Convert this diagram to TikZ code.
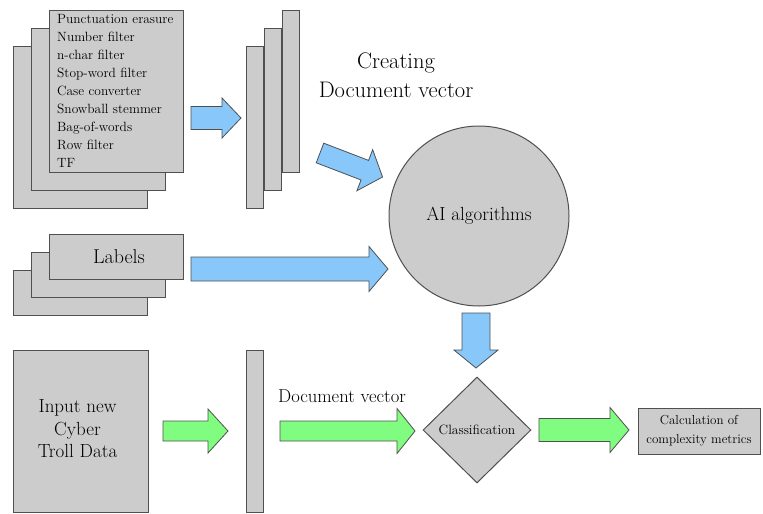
\documentclass[tikz,border=0pt]{standalone}
\usetikzlibrary{shapes.geometric}
\definecolor{boxgray}{HTML}{CCCCCC}
\definecolor{edgegray}{HTML}{505050}
\definecolor{skyfill}{HTML}{87C7FA}
\definecolor{mintfill}{HTML}{80FC80}

\begin{document}
\begin{tikzpicture}[x=1pt,y=-1pt,
  box/.style={draw=edgegray,fill=boxgray,line width=1pt,rectangle,inner sep=0pt},
  page/.style={box,minimum width=134pt,minimum height=162pt},
  sheet/.style={box,minimum width=17pt,minimum height=162pt},
  tagbox/.style={box,minimum width=134pt,minimum height=45pt},
  bluearrow/.style={draw=edgegray,fill=skyfill,line width=0.8pt},
  greenarrow/.style={draw=edgegray,fill=mintfill,line width=0.8pt},
  % block arrow: {length}{shaft half width}{head half width}{head length}
  pics/blockarrow/.style n args={4}{code={
    \path[pic actions] (0,-#2) -- (#1-#4,-#2) -- (#1-#4,-#3) -- (#1,0)
      -- (#1-#4,#3) -- (#1-#4,#2) -- (0,#2) -- cycle;
  }}
]
\useasboundingbox (0,0) rectangle (763,514);

% stacked preprocessing pages
\node[page] (pg3) at (80.5,127) {};
\node[page] (pg2) at (98.5,109) {};
\node[page] (pg1) at (116.5,91) {};
\node[anchor=north west,inner sep=0pt,align=left,font=\fontsize{13.4}{17.9}\selectfont]
  (steps) at (57,14.5) {Punctuation erasure\\Number filter\\n-char filter\\Stop-word filter\\Case converter\\Snowball stemmer\\Bag-of-words\\Row filter\\TF};

% stacked document vectors
\node[sheet] (vec3) at (254.5,127) {};
\node[sheet] (vec2) at (272.5,109) {};
\node[sheet] (vec1) at (290.5,91) {};

\node[align=center,font=\fontsize{22.5}{28.5}\selectfont] (title) at (396,75) {Creating\\Document vector};

% stacked labels
\node[tagbox] (lab3) at (80.5,292.5) {};
\node[tagbox] (lab2) at (98.5,274.5) {};
\node[tagbox,label={[font=\fontsize{20}{22}\selectfont,xshift=2.5pt]center:Labels}] (lab1) at (116.5,256.5) {};

% classifier
\node[circle,draw=edgegray,fill=boxgray,line width=1pt,minimum size=180pt,inner sep=0pt,
  font=\fontsize{19}{22}\selectfont] (ai) at (479,216) {AI algorithms};

\node[diamond,draw=edgegray,fill=boxgray,line width=1pt,minimum width=108pt,minimum height=106pt,
  inner sep=0pt,font=\fontsize{13.5}{16}\selectfont] (cls) at (477,430) {Classification};

\node[box,minimum width=122pt,minimum height=46pt,align=center,
  font=\fontsize{13}{19}\selectfont] (calc) at (699,431) {Calculation of\\complexity metrics};

% new data path
\node[box,minimum width=135pt,minimum height=162pt,
  label={[align=center,font=\fontsize{19}{22.5}\selectfont,xshift=-3pt,yshift=2pt]center:Input new\\Cyber\\Troll Data}]
  (input) at (80.5,431) {};
\node[sheet] (bar) at (254.5,431) {};
\node[font=\fontsize{18.6}{22}\selectfont] (dvlabel) at (342,396) {Document vector};

% block arrows
\pic[bluearrow] at (191,118) {blockarrow={50}{11.5}{20}{19}};
\pic[bluearrow,rotate=-21] at (320,153) {blockarrow={67}{10.5}{22}{19}};
\pic[bluearrow] at (191,269) {blockarrow={197}{12}{22.5}{19}};
\pic[bluearrow,rotate=-90] at (476,313) {blockarrow={55}{14}{22}{18}};
\pic[greenarrow] at (163,431) {blockarrow={65}{10}{22}{20}};
\pic[greenarrow] at (280,431) {blockarrow={135}{10}{22.5}{18}};
\pic[greenarrow] at (539,430) {blockarrow={90}{11.5}{22.5}{19}};
\end{tikzpicture}
\end{document}
